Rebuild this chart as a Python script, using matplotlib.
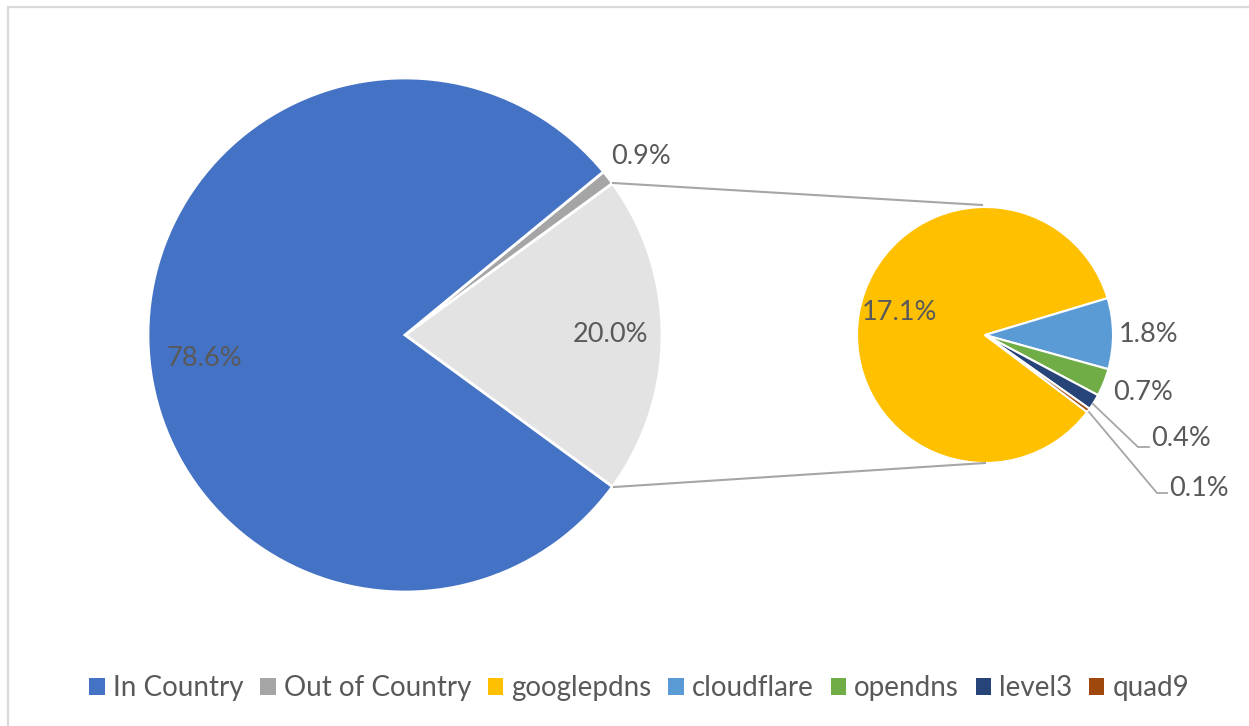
import matplotlib
matplotlib.use("Agg")
import matplotlib.pyplot as plt
from matplotlib.patches import Rectangle, Patch

plt.rcParams['font.family'] = ['Lato', 'DejaVu Sans']

# share of resolvers
main_labels = ['In Country', 'Out of Country']
main_vals = [78.6, 0.9]
other_val = 20.0
sub_labels = ['googlepdns', 'cloudflare', 'opendns', 'level3', 'quad9']
sub_vals = [17.1, 1.8, 0.7, 0.4, 0.1]

main_colors = ['#4472C4', '#A5A5A5']
other_color = '#E3E3E3'
sub_colors = ['#FFC000', '#5B9BD5', '#70AD47', '#264478', '#9E480E']
txt = '#595959'

W, H = 1249, 726
fig = plt.figure(figsize=(W / 100, H / 100), dpi=100)
ax = fig.add_axes([0, 0, 1, 1])
ax.set_xlim(0, W)
ax.set_ylim(0, H)
ax.set_aspect('equal')
ax.axis('off')

# chart area frame
ax.add_patch(Rectangle((8, -20), W + 20, H - 7 + 20, fill=False,
                       edgecolor='#D9D9D9', linewidth=1.6))

# primary pie, "other" wedge centred on the right
c1, r1 = (405, 391), 257
vals1 = [other_val, main_vals[1], main_vals[0]]
cols1 = [other_color, main_colors[1], main_colors[0]]
start1 = -other_val / sum(vals1) * 360 / 2
w1, _ = ax.pie(vals1, colors=cols1, center=c1, radius=r1, startangle=start1,
               counterclock=True, frame=True,
               wedgeprops=dict(edgecolor='white', linewidth=2))

# secondary pie
c2, r2 = (985, 391), 128
w2, _ = ax.pie(sub_vals, colors=sub_colors, center=c2, radius=r2, startangle=-37,
               counterclock=False, frame=True,
               wedgeprops=dict(edgecolor='white', linewidth=1.5))
ax.set_xlim(0, W)
ax.set_ylim(0, H)
ax.axis('off')

# connector lines
ax.plot([613, 982], [543, 521], color='#A6A6A6', lw=1.5)
ax.plot([614, 985], [239, 263], color='#A6A6A6', lw=1.5)

fs = 19.5
ax.text(204, 368, f'{main_vals[0]:.1f}%', color=txt, fontsize=fs, ha='center', va='center')
ax.text(611, 392, f'{other_val:.1f}%', color=txt, fontsize=fs, ha='center', va='center')
ax.text(641, 569, f'{main_vals[1]:.1f}%', color=txt, fontsize=fs, ha='center', va='center')

ax.text(899, 414, f'{sub_vals[0]:.1f}%', color=txt, fontsize=fs, ha='center', va='center')
ax.text(1149, 392, f'{sub_vals[1]:.1f}%', color=txt, fontsize=fs, ha='center', va='center')
ax.text(1143, 334, f'{sub_vals[2]:.1f}%', color=txt, fontsize=fs, ha='center', va='center')

# leader lines for the smallest slices
ax.plot([1093, 1138, 1149], [322, 279, 279], color='#A6A6A6', lw=1.3)
ax.text(1151, 288, f'{sub_vals[3]:.1f}%', color=txt, fontsize=fs, ha='left', va='center')
ax.plot([1089, 1157, 1167], [314, 233, 233], color='#A6A6A6', lw=1.3)
ax.text(1169, 238, f'{sub_vals[4]:.1f}%', color=txt, fontsize=fs, ha='left', va='center')

handles = [Patch(facecolor=c, edgecolor='none') for c in main_colors + sub_colors]
fig.legend(handles, main_labels + sub_labels, loc='center', bbox_to_anchor=(0.512, 1 - 688 / H),
           ncol=7, frameon=False, fontsize=20, handlelength=0.55, handleheight=0.55,
           handletextpad=0.3, columnspacing=0.6, labelcolor=txt)

fig.savefig('out.png', dpi=100)
